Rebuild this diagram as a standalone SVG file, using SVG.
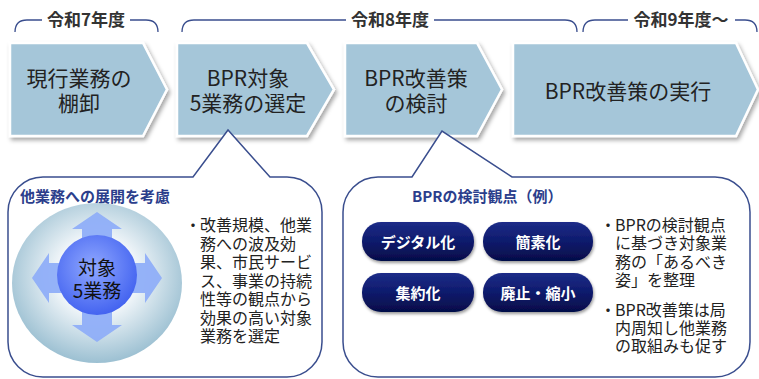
<svg xmlns="http://www.w3.org/2000/svg" width="759" height="379" viewBox="0 0 759 379">
<style>
  text { font-family: "Noto Sans CJK JP", "Noto Sans", sans-serif; }
  .chev { fill: #A5C6D9; stroke: #FFFFFF; stroke-width: 2.5; stroke-linejoin: miter; }
  .chevt { font-size: 21px; fill: #222222; text-anchor: middle; }
  .yr { font-size: 17px; font-weight: 700; fill: #333333; text-anchor: middle; }
  .br { fill: none; stroke: #3A4E8E; stroke-width: 1.3; }
  .call { fill: #FFFFFF; stroke: #3A4E8E; stroke-width: 1.5; stroke-linejoin: miter; }
  .ttl { font-size: 15px; font-weight: 700; fill: #2B3E8C; }
  .bul { font-size: 16px; fill: #222222; }
  .pill { fill: url(#pillg); }
  .pillt { font-size: 15px; font-weight: 700; fill: #FFFFFF; text-anchor: middle; }
</style>
<defs>
  <filter id="sh" x="-10%" y="-10%" width="125%" height="130%">
    <feDropShadow dx="2" dy="3" stdDeviation="2" flood-color="#000000" flood-opacity="0.35"/>
  </filter>
  <filter id="psh" x="-10%" y="-20%" width="125%" height="150%">
    <feDropShadow dx="1" dy="2" stdDeviation="1.5" flood-color="#000000" flood-opacity="0.4"/>
  </filter>
  <radialGradient id="outerg" cx="50%" cy="45%" r="55%">
    <stop offset="0" stop-color="#FFFFFF"/>
    <stop offset="0.45" stop-color="#EEF4F8"/>
    <stop offset="1" stop-color="#9CC0D2"/>
  </radialGradient>
  <radialGradient id="innerg" cx="45%" cy="40%" r="60%">
    <stop offset="0" stop-color="#90A8FF"/>
    <stop offset="1" stop-color="#4464F0"/>
  </radialGradient>
  <linearGradient id="pillg" x1="0" y1="0" x2="0" y2="1">
    <stop offset="0" stop-color="#1C2C88"/>
    <stop offset="0.5" stop-color="#0E1A6C"/>
    <stop offset="1" stop-color="#050D48"/>
  </linearGradient>
</defs>

<g id="brackets">
  <path class="br" d="M15 32 Q15 20 27 20 L42 20 M130 20 L146 20 Q158 20 158 32"/>
  <path class="br" d="M182 32 Q182 20 194 20 L346 20 M434 20 L565 20 Q577 20 577 32"/>
  <path class="br" d="M583 32 Q583 20 595 20 L628 20 M735 20 L745 20 Q757 20 757 32"/>
  <text class="yr" x="86" y="26">令和7年度</text>
  <text class="yr" x="390" y="26">令和8年度</text>
  <text class="yr" x="681" y="26">令和9年度～</text>
</g>

<g id="step1">
  <polygon class="chev" filter="url(#sh)" points="10,43 143,43 167,89.5 143,136 10,136"/>
  <text class="chevt" x="79" y="86">現行業務の</text>
  <text class="chevt" x="79" y="111">棚卸</text>
</g>
<g id="step2">
  <polygon class="chev" filter="url(#sh)" points="177,43 307,43 334,89.5 307,136 177,136"/>
  <text class="chevt" x="248" y="86">BPR対象</text>
  <text class="chevt" x="248" y="111">5業務の選定</text>
</g>
<g id="step3">
  <polygon class="chev" filter="url(#sh)" points="345,43 477,43 502,89.5 477,136 345,136"/>
  <text class="chevt" x="416" y="86">BPR改善策</text>
  <text class="chevt" x="416" y="111">の検討</text>
</g>
<g id="step4">
  <polygon class="chev" filter="url(#sh)" points="513,43 736,43 758,89.5 736,136 513,136"/>
  <text class="chevt" x="628" y="99">BPR改善策の実行</text>
</g>

<g id="callout1">
  <path class="call" d="M43 177 L193 177 L228 130 L270 177 L287 177 A35 35 0 0 1 322 212 L322 342 A35 35 0 0 1 287 377 L43 377 A35 35 0 0 1 8 342 L8 212 A35 35 0 0 1 43 177 Z"/>
  <text class="ttl" x="20" y="202">他業務への展開を考慮</text>
  <ellipse cx="97" cy="283" rx="85" ry="80" fill="url(#outerg)"/>
  <path fill="#8FAEF8" opacity="0.95" d="M97 212 L122 229 L112 229 L112 263 L145 263 L145 253 L162 278 L145 303 L145 293 L112 293 L112 325 L122 325 L97 342 L72 325 L82 325 L82 293 L49 293 L49 303 L32 278 L49 253 L49 263 L82 263 L82 229 L72 229 Z"/>
  <circle cx="97" cy="275" r="40" fill="url(#innerg)"/>
  <text x="97" y="275" font-size="19" fill="#111111" text-anchor="middle">対象</text>
  <text x="97" y="298" font-size="19" fill="#111111" text-anchor="middle">5業務</text>
  <text class="bul"><tspan x="185" y="231">・</tspan><tspan x="200" y="231">改善規模、他業</tspan></text>
  <text class="bul" x="200" y="249.5">務への波及効</text>
  <text class="bul" x="200" y="268">果、市民サービ</text>
  <text class="bul" x="200" y="286.5">ス、事業の持続</text>
  <text class="bul" x="200" y="305">性等の観点から</text>
  <text class="bul" x="200" y="323.5">効果の高い対象</text>
  <text class="bul" x="200" y="342">業務を選定</text>
</g>

<g id="callout2">
  <path class="call" d="M378 177 L412 177 L442 131 L512 177 L715 177 A35 35 0 0 1 750 212 L750 342 A35 35 0 0 1 715 377 L378 377 A35 35 0 0 1 343 342 L343 212 A35 35 0 0 1 378 177 Z"/>
  <text class="ttl" x="412" y="202">BPRの検討観点（例）</text>
  <g filter="url(#psh)">
    <rect class="pill" x="362" y="222" width="112" height="39" rx="19"/>
    <rect class="pill" x="483" y="222" width="110" height="39" rx="19"/>
    <rect class="pill" x="362" y="273" width="112" height="39" rx="19"/>
    <rect class="pill" x="483" y="273" width="110" height="39" rx="19"/>
  </g>
  <text class="pillt" x="418" y="248">デジタル化</text>
  <text class="pillt" x="538" y="248">簡素化</text>
  <text class="pillt" x="418" y="299">集約化</text>
  <text class="pillt" x="538" y="299">廃止・縮小</text>
  <text class="bul"><tspan x="600" y="231">・</tspan><tspan x="615" y="231">BPRの検討観点</tspan></text>
  <text class="bul" x="615" y="249.3">に基づき対象業</text>
  <text class="bul" x="615" y="267.6">務の「あるべき</text>
  <text class="bul" x="615" y="286">姿」を整理</text>
  <text class="bul"><tspan x="600" y="316">・</tspan><tspan x="615" y="316">BPR改善策は局</tspan></text>
  <text class="bul" x="615" y="334">内周知し他業務</text>
  <text class="bul" x="615" y="352">の取組みも促す</text>
</g>
</svg>
